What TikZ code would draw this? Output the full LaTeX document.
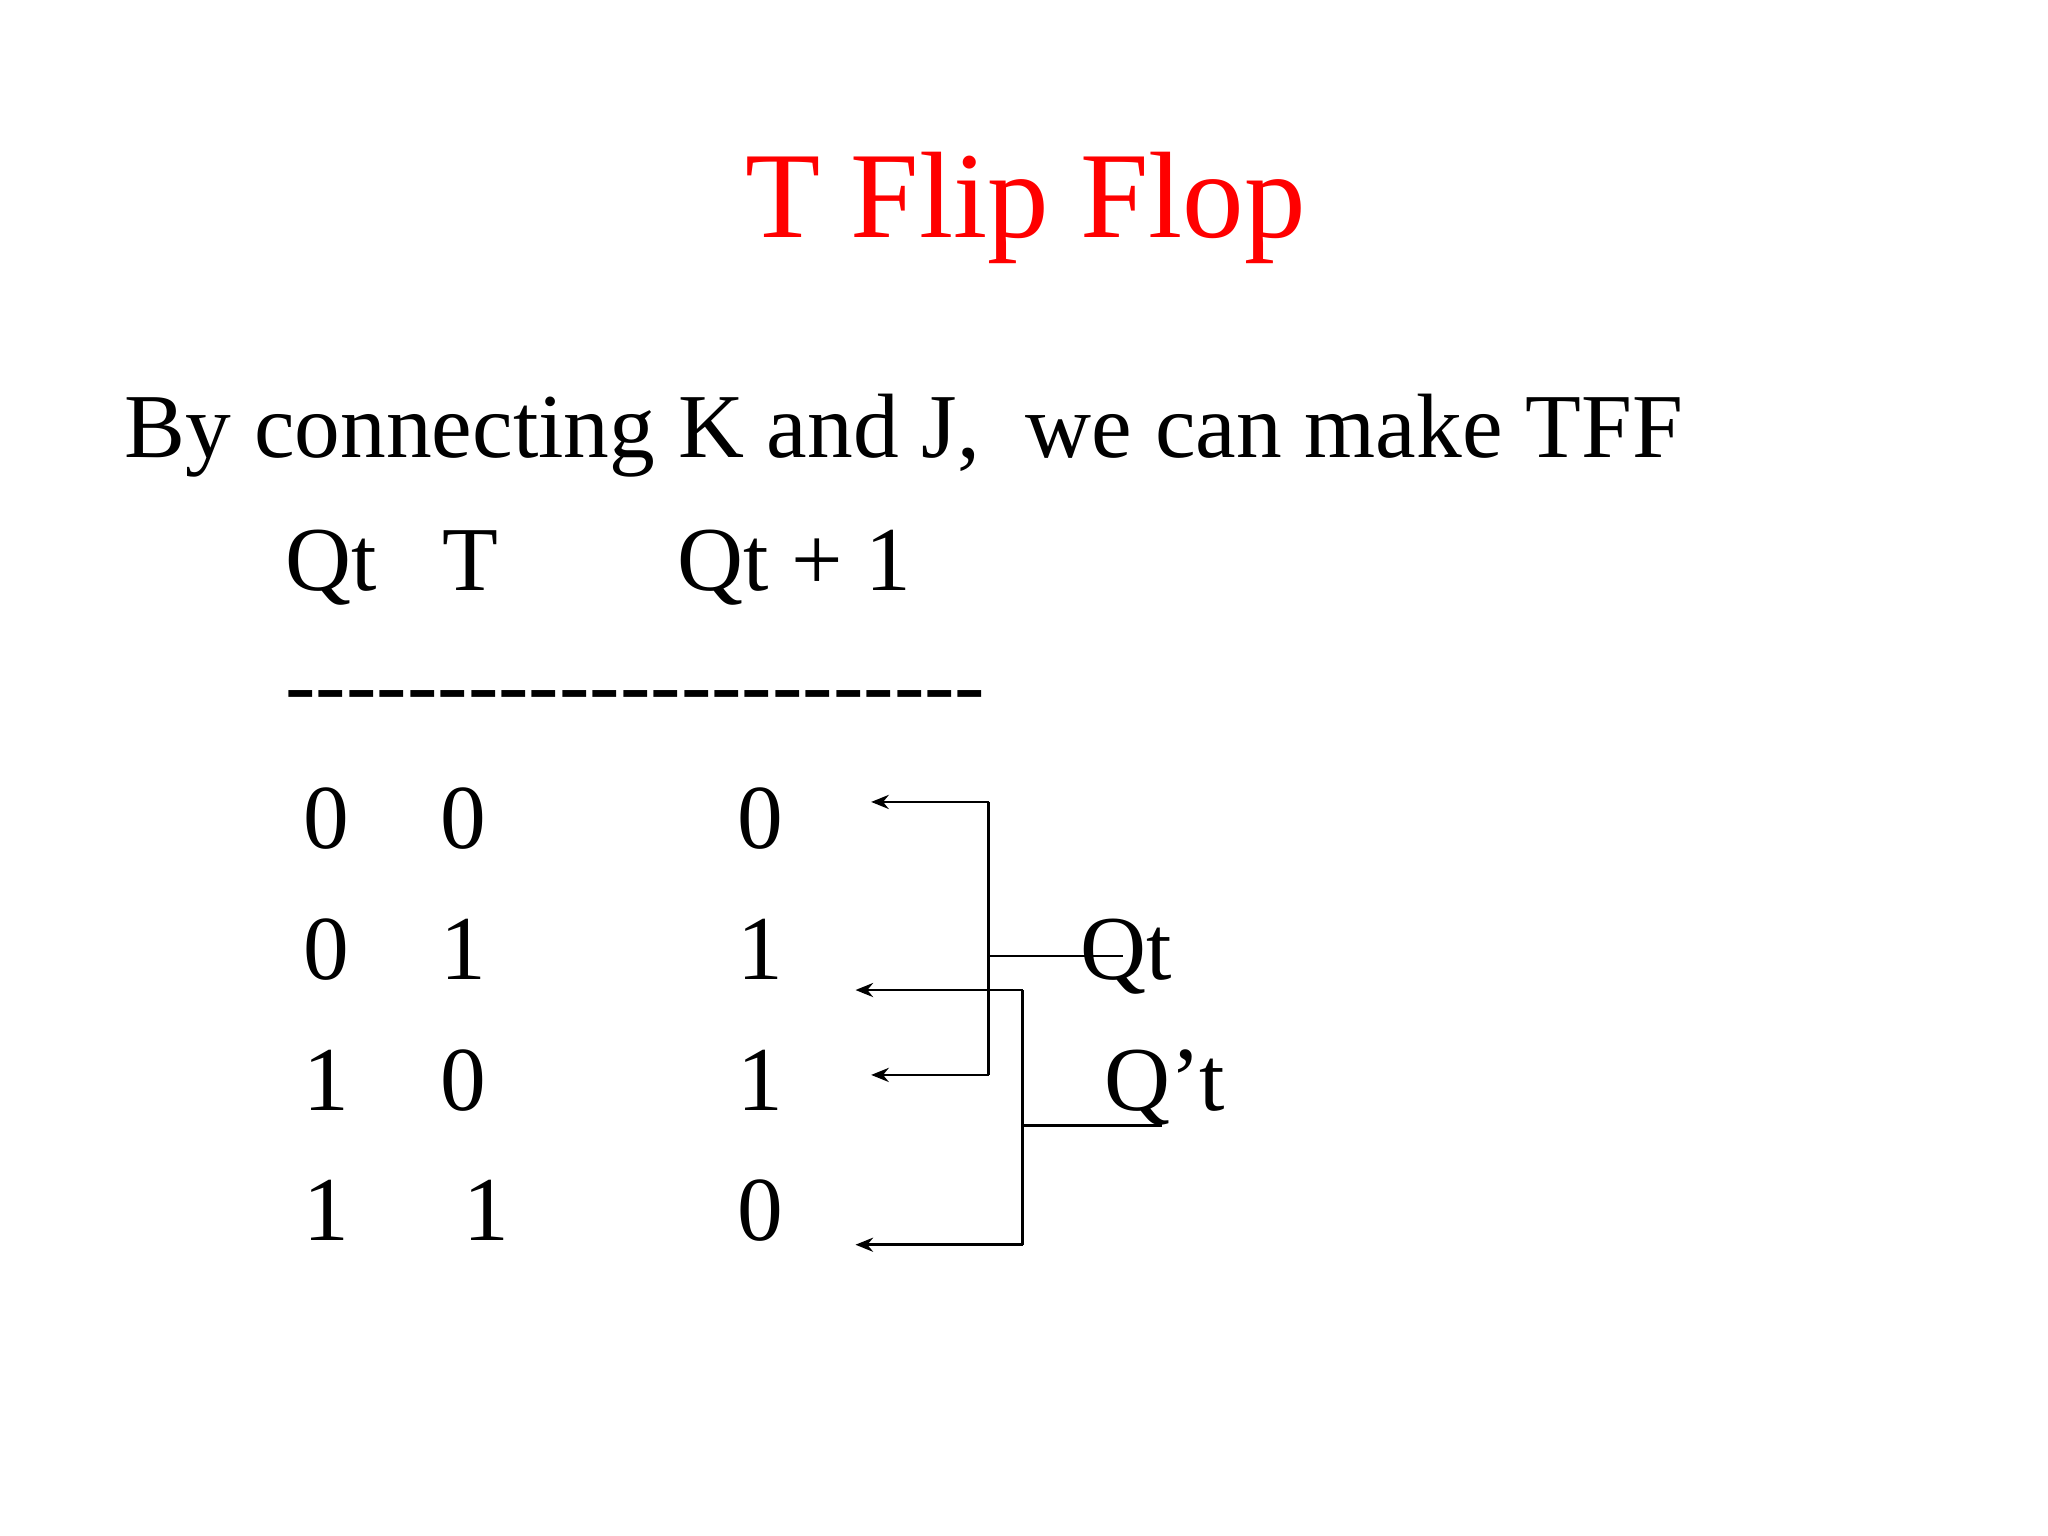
\documentclass[tikz,border=0pt]{standalone}
\usepackage{fontspec}
\setmainfont{Liberation Serif}
\newfontfamily\plainserif{Liberation Serif}
\usetikzlibrary{arrows.meta}
\begin{document}
\begin{tikzpicture}[x=0.01306cm,y=-0.01306cm,
  txt/.style={anchor=base west,inner sep=0pt,font=\fontsize{26}{31}\selectfont},
  num/.style={anchor=base,inner sep=0pt,font=\fontsize{26}{31}\selectfont},
  ln/.style={line width=0.8pt},
  arr/.style={ln,-{Stealth[length=5pt,width=4pt]}}]
\useasboundingbox (0,0) rectangle (1568,1176);
\node[anchor=base,inner sep=0pt,text=red,font=\fontsize{35}{41}\selectfont] (title) at (785,182) {T Flip Flop};
\node[txt] (intro) at (95,350) {By connecting K and J,\ \ we can make TFF};
\node[txt] (h1) at (218,452) {Qt};
\node[txt] (h2) at (338,452) {T};
\node[txt] (h3) at (518,452) {Qt + 1};
\node[txt,font=\plainserif\fontsize{26}{31}\selectfont] (dash) at (218,548) {-----------------------};
\foreach \r/\a/\b/\c/\bx in {1/0/0/0/355,2/0/1/1/355,3/1/0/1/355,4/1/1/0/372}{
  \node[num] (a\r) at (250,550+100*\r) {\a};
  \node[num] (b\r) at (\bx,550+100*\r) {\b};
  \node[num] (c\r) at (582,550+100*\r) {\c};
}
\node[txt] (qt) at (827,750) {Qt};
\node[txt] (qpt) at (845,850) {Q’t};
\coordinate (p1) at (757,614); \coordinate (e1) at (667,614);
\coordinate (p3) at (757,823); \coordinate (e3) at (667,823);
\coordinate (pm) at (757,732); \coordinate (em) at (860,732);
\coordinate (q2) at (783,758); \coordinate (f2) at (655,758);
\coordinate (q4) at (783,953); \coordinate (f4) at (655,953);
\coordinate (qm) at (783,862); \coordinate (fm) at (890,862);
\draw[ln] (p1) -- (p3);
\draw[arr] (p1) -- (e1);
\draw[arr] (p3) -- (e3);
\draw[ln] (pm) -- (em);
\draw[ln] (q2) -- (q4);
\draw[arr] (q2) -- (f2);
\draw[arr] (q4) -- (f4);
\draw[ln] (qm) -- (fm);
\end{tikzpicture}
\end{document}
